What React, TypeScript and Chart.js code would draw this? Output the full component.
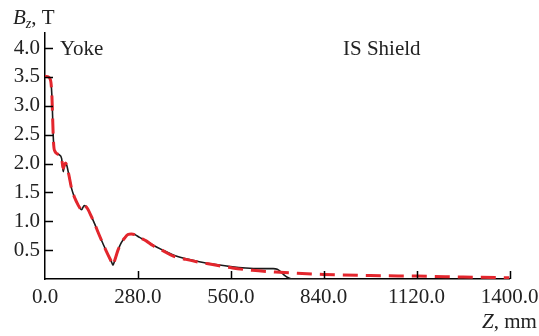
import React, { useEffect, useRef } from "react";
import { Chart, registerables } from "chart.js";

Chart.register(...registerables);

const zBlack = [0, 10, 15, 18, 21, 23, 25, 27, 30, 36, 43, 50, 53, 55, 58, 62, 66, 72, 80, 90, 100, 105, 110, 118, 122, 128, 140, 150, 165, 185, 200, 205, 210, 220, 230, 240, 250, 260, 270, 285, 305, 325, 355, 385, 425, 465, 515, 565, 605, 645, 688, 700, 710, 720, 730, 745, 840];
const bBlack = [3.51, 3.5, 3.47, 3.4, 3.15, 2.8, 2.45, 2.27, 2.21, 2.17, 2.15, 2.09, 1.95, 1.86, 1.95, 2.01, 1.96, 1.8, 1.57, 1.4, 1.28, 1.23, 1.2, 1.27, 1.26, 1.22, 1.08, 0.95, 0.74, 0.48, 0.3, 0.24, 0.32, 0.5, 0.63, 0.71, 0.77, 0.78, 0.77, 0.72, 0.66, 0.59, 0.5, 0.42, 0.35, 0.3, 0.25, 0.21, 0.19, 0.18, 0.18, 0.17, 0.13, 0.07, 0.03, 0.0, 0.0];

const zRed = [0, 10, 15, 18, 21, 23, 25, 27, 30, 36, 43, 50, 53, 55, 58, 62, 66, 72, 80, 90, 100, 105, 110, 118, 122, 128, 140, 150, 165, 185, 200, 205, 210, 220, 230, 240, 250, 260, 270, 285, 305, 325, 355, 385, 425, 465, 505, 565, 625, 695, 760, 840, 980, 1120, 1260, 1400];
const bRed = [3.51, 3.5, 3.47, 3.4, 3.15, 2.8, 2.45, 2.27, 2.21, 2.17, 2.15, 2.09, 1.97, 1.92, 1.96, 2.01, 1.96, 1.8, 1.57, 1.4, 1.28, 1.23, 1.2, 1.27, 1.26, 1.22, 1.08, 0.95, 0.74, 0.48, 0.3, 0.24, 0.32, 0.5, 0.63, 0.71, 0.77, 0.78, 0.77, 0.72, 0.66, 0.58, 0.49, 0.4, 0.34, 0.29, 0.25, 0.19, 0.15, 0.12, 0.1, 0.08, 0.06, 0.05, 0.035, 0.02];

const yTicks = [0.5, 1.0, 1.5, 2.0, 2.5, 3.0, 3.5, 4.0];
const xTicks = [0, 280, 560, 840, 1120, 1400];

const FONT = "Liberation Serif";

const decorPlugin = {
  id: "decor",
  afterDraw(chart: any) {
    const ctx = chart.ctx;
    const xs = chart.scales.x;
    const ys = chart.scales.y;
    const area = chart.chartArea;
    ctx.save();
    ctx.strokeStyle = "#000";
    ctx.lineWidth = 1.5;
    ctx.beginPath();
    for (const v of yTicks) {
      const py = Math.round(ys.getPixelForValue(v)) + 0.5;
      ctx.moveTo(area.left, py);
      ctx.lineTo(area.left + 8, py);
    }
    for (const v of xTicks) {
      if (v === 0) continue;
      const px = Math.round(xs.getPixelForValue(v)) + 0.5;
      ctx.moveTo(px, area.bottom);
      ctx.lineTo(px, area.bottom - 8);
    }
    ctx.stroke();

    ctx.fillStyle = "#222";
    ctx.textBaseline = "alphabetic";
    ctx.textAlign = "left";
    ctx.font = `21px "${FONT}"`;
    ctx.fillText("Yoke", 60, 55);
    ctx.fillText("IS Shield", 343, 55);

    // y axis title: B_z, T
    let x = 13;
    ctx.font = `italic 21px "${FONT}"`;
    ctx.fillText("B", x, 24);
    x += ctx.measureText("B").width;
    ctx.font = `italic 14px "${FONT}"`;
    ctx.fillText("z", x, 28);
    x += ctx.measureText("z").width;
    ctx.font = `21px "${FONT}"`;
    ctx.fillText(", T", x, 24);

    // x axis title: Z, mm
    x = 482;
    ctx.font = `italic 21px "${FONT}"`;
    ctx.fillText("Z", x, 328);
    x += ctx.measureText("Z").width;
    ctx.font = `21px "${FONT}"`;
    ctx.fillText(", mm", x, 328);
    ctx.restore();
  },
};

export default function App() {
  const ref = useRef<HTMLCanvasElement>(null);
  useEffect(() => {
    if (!ref.current) return;
    const chart = new Chart(ref.current, {
      type: "line",
      data: {
        datasets: [
          {
            label: "red",
            data: zRed.map((z, i) => ({ x: z, y: bRed[i] })),
            borderColor: "#e3262d",
            borderWidth: 3,
            borderDash: [15, 8],
            pointRadius: 0,
            cubicInterpolationMode: "monotone",
            fill: false,
            order: 0,
          },
          {
            label: "black",
            data: zBlack.map((z, i) => ({ x: z, y: bBlack[i] })),
            borderColor: "#1a1a1a",
            borderWidth: 1.6,
            pointRadius: 0,
            cubicInterpolationMode: "monotone",
            fill: false,
            order: 1,
          },
        ],
      },
      options: {
        responsive: false,
        animation: false,
        layout: { padding: { top: 33, right: 29.5, left: 0, bottom: 0 } },
        plugins: { legend: { display: false }, tooltip: { enabled: false } },
        scales: {
          x: {
            type: "linear",
            min: 0,
            max: 1400,
            grid: { display: false, drawTicks: false },
            border: { display: true, color: "#000", width: 1.5 },
            afterBuildTicks: (s: any) => {
              s.ticks = xTicks.map((v) => ({ value: v }));
            },
            afterFit: (s: any) => {
              s.height = 57;
              s.paddingLeft = 0;
              s.paddingRight = 0;
            },
            ticks: {
              padding: 6,
              color: "#222",
              font: { family: FONT, size: 21 },
              maxRotation: 0,
              autoSkip: false,
              callback: (v: any) => Number(v).toFixed(1),
            },
          },
          y: {
            type: "linear",
            min: 0,
            max: 4.26,
            grid: { display: false, drawTicks: false },
            border: { display: true, color: "#000", width: 1.5 },
            afterBuildTicks: (s: any) => {
              s.ticks = yTicks.map((v) => ({ value: v }));
            },
            afterFit: (s: any) => {
              s.width = 45;
              s.paddingTop = 0;
              s.paddingBottom = 0;
            },
            ticks: {
              padding: 5,
              color: "#222",
              font: { family: FONT, size: 21 },
              autoSkip: false,
              callback: (v: any) => Number(v).toFixed(1),
            },
          },
        },
      },
      plugins: [decorPlugin],
    } as any);
    return () => chart.destroy();
  }, []);
  return (
    <div style={{ position: "absolute", left: 0, top: 0, width: 539, height: 336, background: "#fff" }}>
      <canvas ref={ref} width={539} height={336} />
    </div>
  );
}
